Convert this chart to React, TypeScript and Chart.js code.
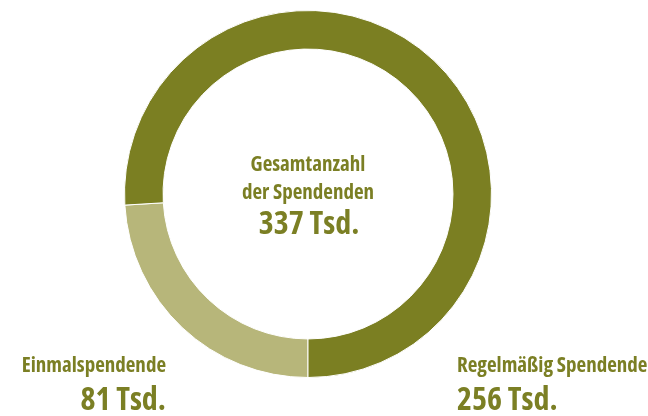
import React, { useEffect, useRef } from "react";
import { Chart, registerables } from "chart.js";

Chart.register(...registerables);

const categories = ["Einmalspendende", "Regelmäßig Spendende"];
const values = [81, 256];
const valueLabels = ["81 Tsd.", "256 Tsd."];
const totalTitle = ["Gesamtanzahl", "der Spendenden"];
const totalLabel = "337 Tsd.";
const colors = ["#b7b67a", "#7b7f22"];

const DARK = "#7b7f24";
const FONT = "'Open Sans', 'Liberation Sans Narrow', 'DejaVu Sans Condensed', sans-serif";

export default function App() {
  const ref = useRef<HTMLCanvasElement | null>(null);

  useEffect(() => {
    document.body.style.margin = "0";
    const chart = new Chart(ref.current!, {
      type: "doughnut",
      data: {
        labels: categories,
        datasets: [
          {
            data: values,
            backgroundColor: colors,
            borderColor: "#ffffff",
            borderWidth: 1,
          },
        ],
      },
      options: {
        responsive: false,
        animation: false,
        rotation: 180,
        cutout: "79%",
        layout: { padding: { top: 10, bottom: 38, left: 124, right: 156 } },
        plugins: { legend: { display: false }, tooltip: { enabled: false } },
      },
    });
    return () => chart.destroy();
  }, []);

  const textBase: React.CSSProperties = {
    position: "absolute",
    fontFamily: FONT,
    fontStretch: "75%",
    fontWeight: 700,
    color: DARK,
    whiteSpace: "nowrap",
    lineHeight: 1,
  };

  return (
    <div style={{ position: "relative", width: 648, height: 416, overflow: "hidden" }}>
      <canvas ref={ref} width={648} height={416} style={{ display: "block" }} />
      <div style={{ ...textBase, left: 208, width: 200, top: 149, textAlign: "center", fontSize: 21, lineHeight: "28px" }}>
        {totalTitle[0]}
        <br />
        {totalTitle[1]}
      </div>
      <div style={{ ...textBase, left: 209, width: 200, top: 206, textAlign: "center", fontSize: 32 }}>
        {totalLabel}
      </div>
      <div style={{ ...textBase, right: 648 - 166, top: 354, textAlign: "right", fontSize: 21 }}>
        {categories[0]}
      </div>
      <div style={{ ...textBase, right: 648 - 166, top: 382, textAlign: "right", fontSize: 32 }}>
        {valueLabels[0]}
      </div>
      <div style={{ ...textBase, left: 457, top: 354, textAlign: "left", fontSize: 21 }}>
        {categories[1]}
      </div>
      <div style={{ ...textBase, left: 457, top: 382, textAlign: "left", fontSize: 32 }}>
        {valueLabels[1]}
      </div>
    </div>
  );
}
